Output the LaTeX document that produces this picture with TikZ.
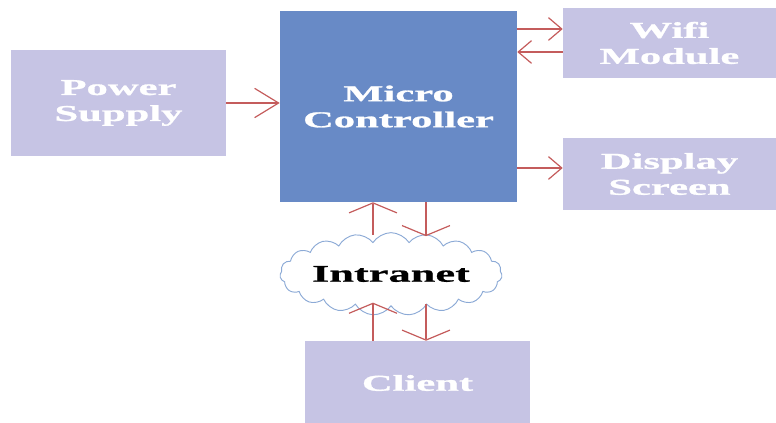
\documentclass[tikz,border=0pt]{standalone}
\usepackage{fontspec}
\newfontfamily\blockfont{Liberation Serif}[FakeStretch=1.88,FakeBold=1.2]
\newfontfamily\cloudfont{Liberation Serif}[FakeStretch=1.85,FakeBold=0.8]
\usetikzlibrary{arrows.meta, positioning, shapes.symbols}
\definecolor{lavender}{RGB}{198,196,228}
\definecolor{mcublue}{RGB}{104,138,198}
\definecolor{wire}{RGB}{196,92,92}
\definecolor{puff}{RGB}{140,170,214}
\tikzset{
  block/.style={rectangle,fill=lavender,align=center,text=white,inner sep=0pt,
    font=\blockfont\bfseries\fontsize{17}{19.5}\selectfont},
  core/.style={block,fill=mcublue},
  net/.style={cloud,draw=puff,line width=0.7pt,fill=white,cloud puffs=19,cloud puff arc=115,
    cloud ignores aspect,inner sep=0pt,font=\cloudfont\bfseries\fontsize{18}{20}\selectfont},
  feed/.style={draw=wire,line width=0.9pt,-{Straight Barb[length=10pt,width=17pt]}},
  link/.style={draw=wire,line width=0.9pt,-{Straight Barb[length=7.5pt,width=36pt]}}
}

\begin{document}
\begin{tikzpicture}[x=0.75pt,y=-0.75pt]
\useasboundingbox (0,0) rectangle (776,423);
% blocks
\node[block, minimum width=161.25pt, minimum height=79.5pt] (power) at (118.5,103) {Power\\Supply};
\node[core, minimum width=177.75pt, minimum height=143.25pt] (mcu) at (398.5,106.5) {Micro\\Controller};
\node[block, minimum width=159.75pt, minimum height=52.5pt] (wifi) at (669.5,43) {Wifi\\Module};
\node[block, minimum width=159.75pt, minimum height=54pt] (display) at (669.5,174) {Display\\Screen};
\node[net, minimum width=160pt, minimum height=62pt] (intranet) at (391,274) {Intranet};
\node[block, minimum width=168.75pt, minimum height=63pt] (client) at (417.5,383) {Client};
% connectors
\draw[feed, -{Straight Barb[length=18pt,width=22pt]}] (power.east) -- (power.east -| mcu.west);
\draw[feed] ([yshift=10.5pt]wifi.west -| mcu.east) -- ([yshift=10.5pt]wifi.west);
\draw[feed] ([yshift=-6.75pt]wifi.west) -- ([yshift=-6.75pt]wifi.west -| mcu.east);
\draw[feed] ([yshift=4.5pt]display.west -| mcu.east) -- ([yshift=4.5pt]display.west);
\draw[link] ([xshift=-13.5pt,yshift=-2pt]intranet.north) -- ([xshift=-13.5pt]intranet.north |- mcu.south);
\draw[link] ([xshift=26.25pt]intranet.north |- mcu.south) -- ([xshift=26.25pt,yshift=-3pt]intranet.north);
\draw[link] ([xshift=-13.5pt]intranet.south |- client.north) -- ([xshift=-13.5pt,yshift=3pt]intranet.south);
\draw[link] ([xshift=26.25pt,yshift=2pt]intranet.south) -- ([xshift=26.25pt]intranet.south |- client.north);
\end{tikzpicture}
\end{document}
